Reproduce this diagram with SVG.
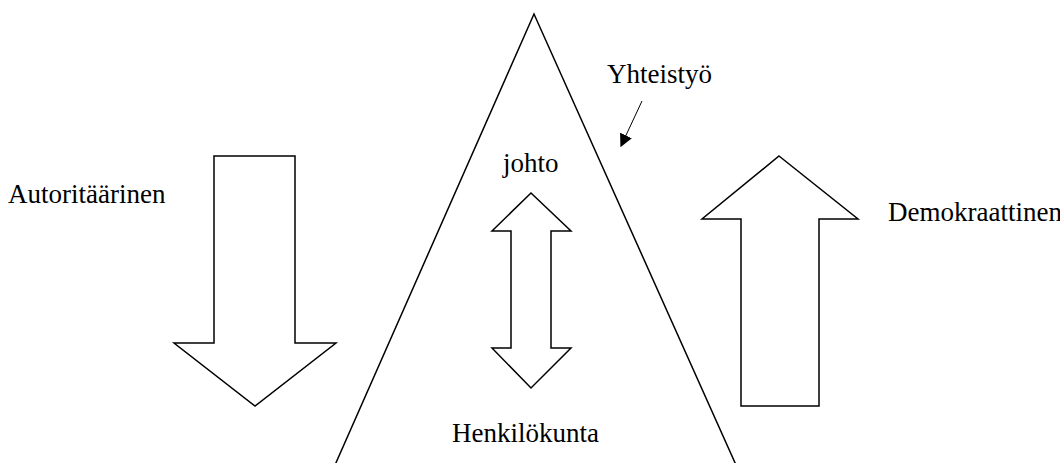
<svg xmlns="http://www.w3.org/2000/svg" width="1060" height="463" viewBox="0 0 1060 463">
<defs>
<style>
.shape{fill:#fff;stroke:#000;stroke-width:1.5;stroke-linejoin:miter}
.lbl{font-family:"Liberation Serif","Times New Roman",serif;font-size:27px;fill:#000}
.conn{stroke:#000;stroke-width:1;fill:none}
</style>
<marker id="ah" viewBox="0 0 10 10" refX="9" refY="5" markerWidth="13" markerHeight="13" markerUnits="userSpaceOnUse" orient="auto"><path d="M0,0 L10,5 L0,10 z" fill="#000"/></marker>
</defs>
<rect width="1060" height="463" fill="#fff"/>
<g id="triangle"><polygon class="shape" points="534,14 335,465 736,465" fill="none"/></g>
<g id="left-arrow"><polygon class="shape" points="214,156 295,156 295,343 336,343 255,406 174,343 214,343"/></g>
<g id="right-arrow"><polygon class="shape" points="779,156 858,219 819,219 819,406 741,406 741,219 702,219"/></g>
<g id="double-arrow"><polygon class="shape" points="531,193 571,231 551,231 551,348 571,348 531,388 492,348 511,348 511,231 492,231"/></g>
<g id="connectors"><line class="conn" x1="642" y1="101" x2="621" y2="146" marker-end="url(#ah)"/></g>
<g id="labels">
<text class="lbl" x="8" y="203" font-size="27">Autoritäärinen</text>
<text class="lbl" x="888" y="221" font-size="26.3">Demokraattinen</text>
<text class="lbl" x="503" y="172" font-size="30.5">johto</text>
<text class="lbl" x="607" y="83" font-size="23">Yhteistyö</text>
<text class="lbl" x="452" y="442" font-size="29.5">Henkilökunta</text>
</g>
</svg>
